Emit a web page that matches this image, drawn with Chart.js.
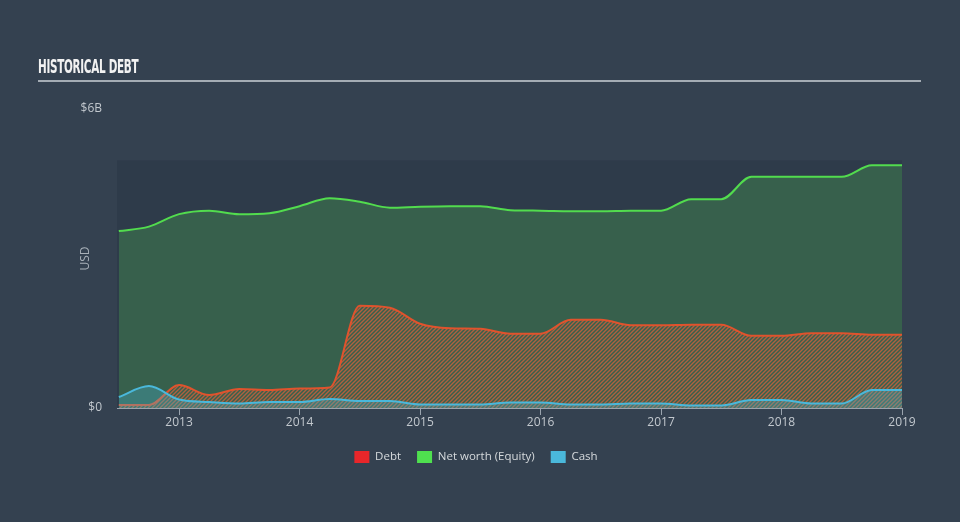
<!DOCTYPE html>
<html>
<head>
<meta charset="utf-8">
<script src="https://cdn.jsdelivr.net/npm/chart.js@4.4.1/dist/chart.umd.min.js"></script>
<style>
  html, body { margin: 0; padding: 0; }
  body { width: 960px; height: 522px; background: #344150; position: relative; overflow: hidden; font-family: "Open Sans", sans-serif; }
  #title { position: absolute; left: 38px; top: 55px; color: #f2f2f2; font-family: "DejaVu Sans Condensed", "Liberation Sans Narrow", sans-serif; font-weight: bold; font-size: 19px; letter-spacing: -0.5px; transform: scaleX(0.61); transform-origin: 0 0; white-space: nowrap; }
  #rule { position: absolute; left: 38px; top: 80px; width: 883px; height: 2px; background: #a4acb4; }
  #chart { position: absolute; left: 0; top: 0; }
</style>
</head>
<body>
<canvas id="chart" width="960" height="522"></canvas>
<div id="title">HISTORICAL DEBT</div>
<div id="rule"></div>
<script>
// quarterly dates (decimal years) and values in USD billions
var quarters = [2012.5, 2012.75, 2013, 2013.25, 2013.5, 2013.75, 2014, 2014.25, 2014.5, 2014.75,
  2015, 2015.25, 2015.5, 2015.75, 2016, 2016.25, 2016.5, 2016.75, 2017, 2017.25, 2017.5, 2017.75,
  2018, 2018.25, 2018.5, 2018.75, 2019];
var debt = [0.06, 0.06, 0.46, 0.26, 0.38, 0.36, 0.39, 0.41, 2.05, 2.01,
  1.69, 1.60, 1.59, 1.49, 1.49, 1.77, 1.77, 1.66, 1.66, 1.67, 1.67, 1.45,
  1.45, 1.50, 1.50, 1.47, 1.47];
var equity = [3.55, 3.64, 3.89, 3.96, 3.89, 3.91, 4.05, 4.21, 4.14, 4.02,
  4.04, 4.05, 4.05, 3.97, 3.96, 3.95, 3.95, 3.96, 3.96, 4.19, 4.19, 4.64,
  4.64, 4.64, 4.64, 4.87, 4.87];
var cash = [0.22, 0.44, 0.17, 0.12, 0.09, 0.12, 0.12, 0.18, 0.14, 0.14,
  0.07, 0.07, 0.07, 0.11, 0.11, 0.07, 0.07, 0.09, 0.09, 0.05, 0.05, 0.16,
  0.16, 0.09, 0.09, 0.36, 0.36];
var yearTicks = [2013, 2014, 2015, 2016, 2017, 2018, 2019];
var valueTicks = [0, 6];
var valueLabels = ['$0', '$6B'];
var seriesNames = ['Debt', 'Net worth (Equity)', 'Cash'];
var legendColors = ['#e8262a', '#4fe04f', '#4ab8db'];

function pts(arr) {
  return arr.map(function (v, i) { return { x: quarters[i], y: v }; });
}

// diagonal hatch for the debt area
function hatch() {
  var c = document.createElement('canvas');
  c.width = 4; c.height = 4;
  var g = c.getContext('2d');
  g.strokeStyle = 'rgba(215,98,60,0.75)';
  g.lineWidth = 1.4;
  g.beginPath();
  g.moveTo(0, 4); g.lineTo(4, 0);
  g.moveTo(-1, 1); g.lineTo(1, -1);
  g.moveTo(3, 5); g.lineTo(5, 3);
  g.stroke();
  return g.createPattern(c, 'repeat');
}

var bgPanel = {
  id: 'bgPanel',
  beforeDraw: function (chart) {
    var a = chart.chartArea, y = chart.scales.y, ctx = chart.ctx;
    var top = y.getPixelForValue(4.97);
    ctx.save();
    ctx.fillStyle = '#2e3b4a';
    ctx.fillRect(a.left, top, a.right - a.left, a.bottom - top);
    ctx.restore();
  }
};

var ctx = document.getElementById('chart').getContext('2d');
var chart = new Chart(ctx, {
  type: 'line',
  data: {
    datasets: [{
      label: seriesNames[0],
      data: pts(debt),
      borderColor: '#e0532d',
      backgroundColor: hatch(),
      fill: 'origin',
      order: 2
    }, {
      label: seriesNames[1],
      data: pts(equity),
      borderColor: '#52dc4e',
      backgroundColor: '#37604c',
      fill: 'origin',
      order: 3
    }, {
      label: seriesNames[2],
      data: pts(cash),
      borderColor: '#4ab8db',
      backgroundColor: 'rgba(74,184,219,0.3)',
      fill: 'origin',
      order: 1
    }]
  },
  plugins: [bgPanel],
  options: {
    responsive: false,
    animation: false,
    devicePixelRatio: 1,
    layout: { padding: { top: 109, right: 58, bottom: 49, left: 50 } },
    elements: {
      line: { borderWidth: 2, cubicInterpolationMode: 'monotone' },
      point: { radius: 0 }
    },
    scales: {
      x: {
        type: 'linear',
        min: 2012.485,
        max: 2019,
        afterBuildTicks: function (s) { s.ticks = yearTicks.map(function (v) { return { value: v }; }); },
        afterFit: function (s) { s.height = 27; },
        grid: { drawOnChartArea: false, drawTicks: true, tickLength: 7, color: '#9aa4ae' },
        border: { color: '#9aa4ae', width: 1 },
        ticks: { color: '#c2c8ce', font: { family: 'Open Sans', size: 12 }, padding: 0,
          maxRotation: 0, callback: function (v) { return String(v); } }
      },
      y: {
        min: 0,
        max: 6,
        afterBuildTicks: function (s) { s.ticks = valueTicks.map(function (v) { return { value: v }; }); },
        afterFit: function (s) { s.width = 67; },
        grid: { display: false },
        border: { display: false },
        ticks: { color: '#c2c8ce', font: { family: 'Open Sans', size: 12 }, padding: 7,
          callback: function (v) { return valueLabels[valueTicks.indexOf(v)]; } },
        title: { display: true, text: 'USD', color: '#a8b0b8', font: { family: 'Open Sans', size: 12 },
          padding: { top: 28, bottom: 0 } }
      }
    },
    plugins: {
      tooltip: { enabled: false },
      legend: {
        position: 'bottom',
        labels: {
          color: '#d6dadd',
          font: { family: 'Open Sans', size: 11.5 },
          boxWidth: 15,
          boxHeight: 12,
          padding: 16,
          sort: function (a, b) { return a.datasetIndex - b.datasetIndex; },
          generateLabels: function (c) {
            return Chart.defaults.plugins.legend.labels.generateLabels(c).map(function (l) {
              l.fillStyle = legendColors[l.datasetIndex];
              l.strokeStyle = legendColors[l.datasetIndex];
              l.lineWidth = 0;
              return l;
            });
          }
        }
      }
    }
  }
});
</script>
</body>
</html>
